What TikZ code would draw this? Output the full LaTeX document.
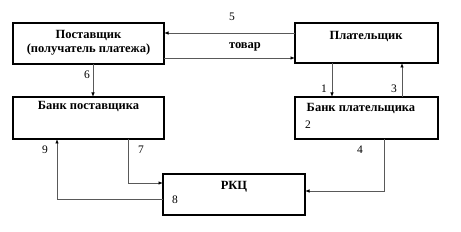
\documentclass[tikz,border=0pt]{standalone}
\usepackage{fontspec}
\setmainfont{Liberation Serif}
\usetikzlibrary{arrows.meta}
\begin{document}
\begin{tikzpicture}[x=1pt,y=-1pt,
  box/.style={draw=black,line width=1.6pt},
  btext/.style={font=\fontsize{12.5}{14.5}\selectfont\bfseries,align=center},
  lbl/.style={font=\fontsize{11.5}{13}\selectfont},
  conn/.style={draw=black!65,line width=0.8pt,-{Latex[length=4.5pt,width=3.5pt,black]}}]
\useasboundingbox (0,0) rectangle (461,232);
\draw[box] (13,23) rectangle (164,64);
\node[btext] (ps) at (88.5,43) {Поставщик\\(получатель платежа)};
\draw[box] (295,23) rectangle (438,63);
\node[btext] (pl) at (366,36) {Плательщик};
\draw[box] (13,97) rectangle (164,139);
\node[btext] (bp) at (88.5,106) {Банк поставщика};
\draw[box] (295,97) rectangle (438,139);
\node[btext] (bpl) at (361,108) {Банк плательщика};
\draw[box] (163,174) rectangle (305,215);
\node[btext] (rkc) at (234,187) {РКЦ};
% coordinates
\coordinate (a5s) at (295,33); \coordinate (a5e) at (164,33);
\coordinate (tws) at (164,58); \coordinate (twe) at (295,58);
\coordinate (a6s) at (93,64); \coordinate (a6e) at (93,97);
\coordinate (a1s) at (332,63); \coordinate (a1e) at (332,97);
\coordinate (a3s) at (402,97); \coordinate (a3e) at (402,63);
\coordinate (a4s) at (384,139); \coordinate (a4m) at (384,191); \coordinate (a4e) at (305,191);
\coordinate (a7s) at (128,139); \coordinate (a7m) at (128,183); \coordinate (a7e) at (163,183);
\coordinate (a9s) at (163,199); \coordinate (a9m) at (57,199); \coordinate (a9e) at (57,139);
\draw[conn] (a5s) -- (a5e);
\draw[conn] (tws) -- (twe);
\draw[conn] (a6s) -- (a6e);
\draw[conn] (a1s) -- (a1e);
\draw[conn] (a3s) -- (a3e);
\draw[conn] (a4s) -- (a4m) -- (a4e);
\draw[conn] (a7s) -- (a7m) -- (a7e);
\draw[conn] (a9s) -- (a9m) -- (a9e);
\node[lbl] (l5) at (232,17) {5};
\node[btext] (ltw) at (245,47) {товар};
\node[lbl] (l6) at (87,75) {6};
\node[lbl] (l1) at (324,89) {1};
\node[lbl] (l3) at (394,89) {3};
\node[lbl] (l2) at (308,125) {2};
\node[lbl] (l4) at (360,150) {4};
\node[lbl] (l7) at (141,150) {7};
\node[lbl] (l9) at (45,150) {9};
\node[lbl] (l8) at (175,200) {8};
\end{tikzpicture}
\end{document}
